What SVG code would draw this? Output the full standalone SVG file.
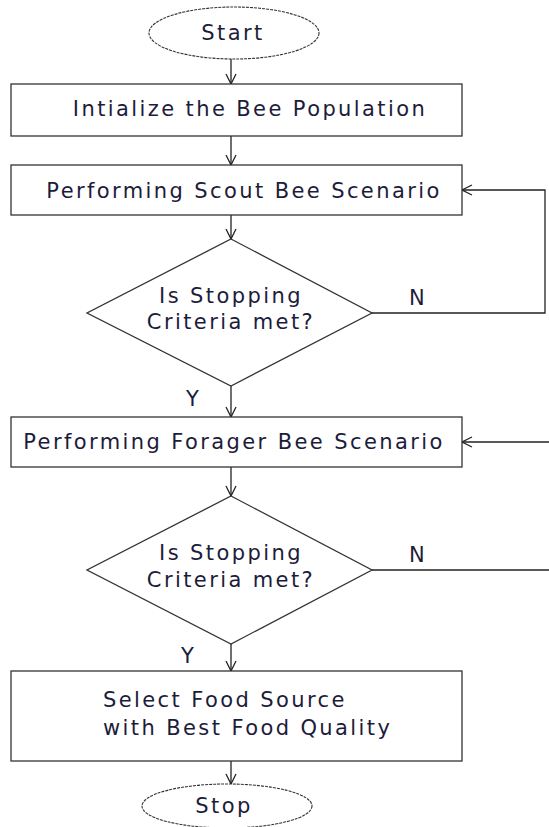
<svg xmlns="http://www.w3.org/2000/svg" width="549" height="827" viewBox="0 0 549 827">
  <defs>
    <marker id="arr" viewBox="0 0 12 12" refX="11" refY="6" markerWidth="12" markerHeight="12" markerUnits="userSpaceOnUse" orient="auto">
      <path d="M1,1 L11,6 L1,11" fill="none" stroke="#222" stroke-width="1.3"/>
    </marker>
  </defs>
  <style>
    .box { fill: #fff; stroke: #333; stroke-width: 1.3; }
    .term { fill: #fff; stroke: #333; stroke-width: 1.1; stroke-dasharray: 3 1; }
    .lbl { font-family: "DejaVu Sans", Verdana, sans-serif; font-size: 21px; letter-spacing: 2.4px; fill: #1c1c3a; text-anchor: middle; }
    .left { text-anchor: start; }
    .yn { font-family: "DejaVu Sans", Verdana, sans-serif; font-size: 21px; fill: #1c1c3a; }
    .edge { fill: none; stroke: #222; stroke-width: 1.3; }
  </style>
  <rect width="549" height="827" fill="#fff"/>

  <g id="connectors">
    <line class="edge" x1="231" y1="58" x2="231" y2="84" marker-end="url(#arr)"/>
    <line class="edge" x1="231" y1="136" x2="231" y2="165" marker-end="url(#arr)"/>
    <line class="edge" x1="231" y1="215" x2="231" y2="239" marker-end="url(#arr)"/>
    <polyline class="edge" points="372,313 545,313 545,190 462,190" marker-end="url(#arr)"/>
    <line class="edge" x1="231" y1="386" x2="231" y2="417" marker-end="url(#arr)"/>
    <line class="edge" x1="549" y1="442" x2="462" y2="442" marker-end="url(#arr)"/>
    <line class="edge" x1="231" y1="467" x2="231" y2="496" marker-end="url(#arr)"/>
    <line class="edge" x1="372" y1="570" x2="549" y2="570"/>
    <line class="edge" x1="231" y1="644" x2="231" y2="671" marker-end="url(#arr)"/>
    <line class="edge" x1="231" y1="761" x2="231" y2="784" marker-end="url(#arr)"/>
    <text class="yn" x="409" y="305">N</text>
    <text class="yn" x="186" y="406">Y</text>
    <text class="yn" x="409" y="562">N</text>
    <text class="yn" x="181" y="663">Y</text>
  </g>

  <g id="start">
    <ellipse class="term" cx="234" cy="33" rx="85" ry="26"/>
    <text class="lbl" x="233" y="40">Start</text>
  </g>

  <g id="init">
    <rect class="box" x="11" y="84" width="451" height="52"/>
    <text class="lbl" x="250" y="116">Intialize the Bee Population</text>
  </g>

  <g id="scout">
    <rect class="box" x="11" y="165" width="451" height="50"/>
    <text class="lbl" x="244" y="198">Performing Scout Bee Scenario</text>
  </g>

  <g id="check1">
    <polygon class="box" points="231,239 372,313 231,386 87,313"/>
    <text class="lbl" x="231" y="303">Is Stopping</text>
    <text class="lbl" x="231" y="329">Criteria met?</text>
  </g>

  <g id="forager">
    <rect class="box" x="11" y="417" width="451" height="50"/>
    <text class="lbl" x="234" y="449">Performing Forager Bee Scenario</text>
  </g>

  <g id="check2">
    <polygon class="box" points="231,496 372,570 231,644 87,570"/>
    <text class="lbl" x="231" y="560">Is Stopping</text>
    <text class="lbl" x="231" y="587">Criteria met?</text>
  </g>

  <g id="select">
    <rect class="box" x="11" y="671" width="451" height="90"/>
    <text class="lbl left" x="103" y="707">Select Food Source</text>
    <text class="lbl left" x="103" y="735">with Best Food Quality</text>
  </g>

  <g id="stop">
    <ellipse class="term" cx="227" cy="806" rx="85" ry="22"/>
    <text class="lbl" x="224" y="813">Stop</text>
  </g>
</svg>
